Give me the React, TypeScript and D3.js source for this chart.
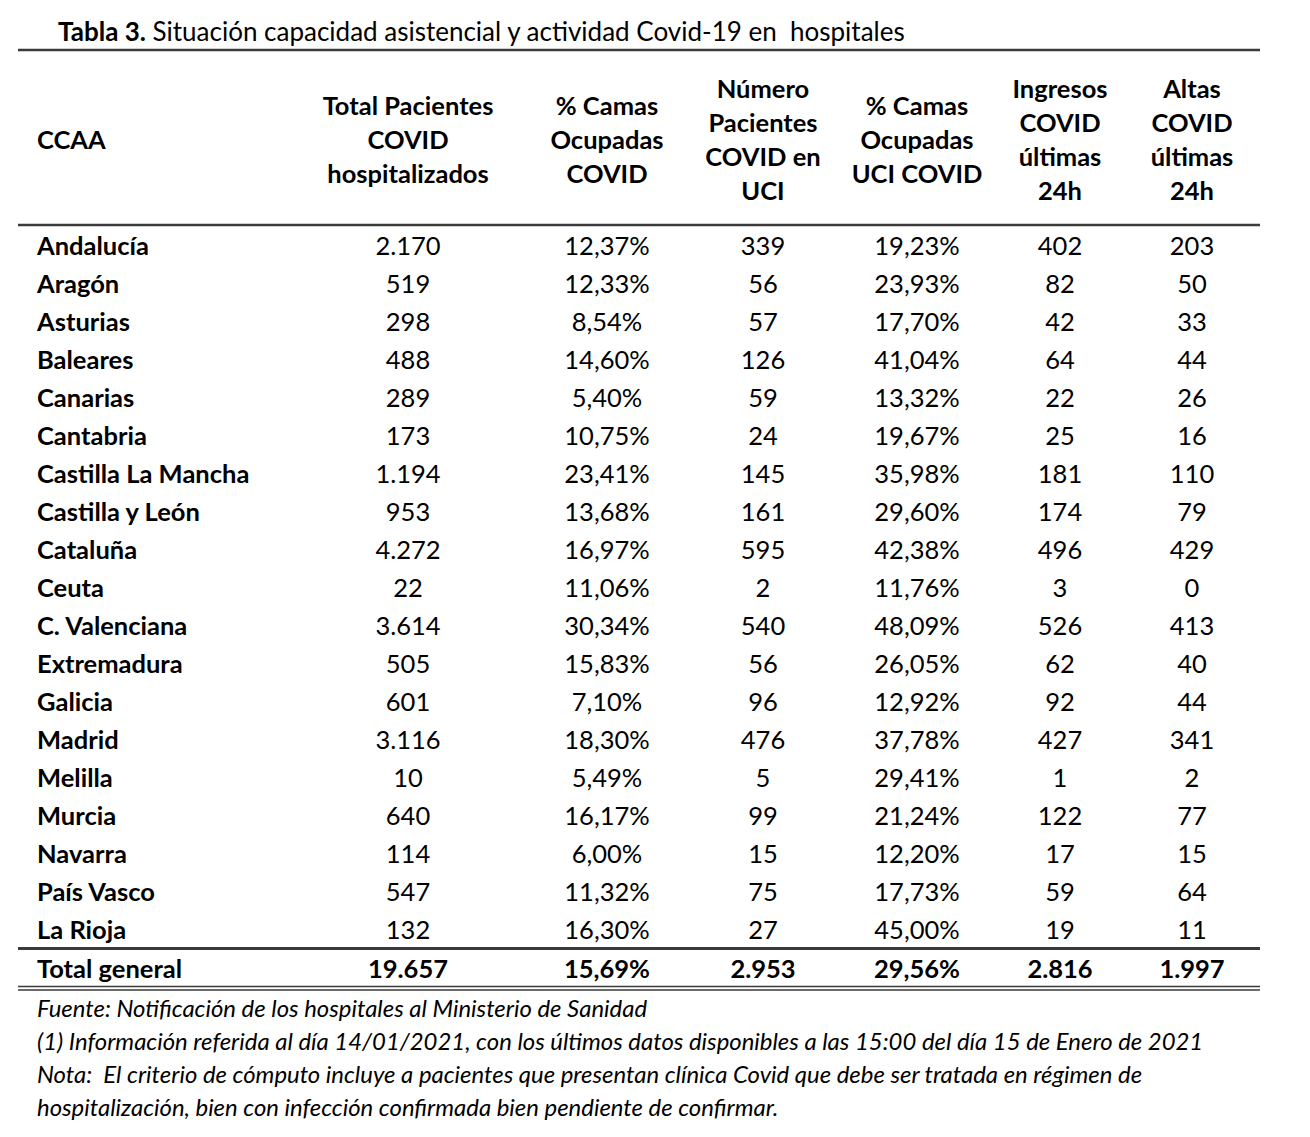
import React from "react";
import * as d3 from "d3";

const regions = ["Andalucía","Aragón","Asturias","Baleares","Canarias","Cantabria","Castilla La Mancha","Castilla y León","Cataluña","Ceuta","C. Valenciana","Extremadura","Galicia","Madrid","Melilla","Murcia","Navarra","País Vasco","La Rioja"];
const totalPacientes = ["2.170","519","298","488","289","173","1.194","953","4.272","22","3.614","505","601","3.116","10","640","114","547","132"];
const pctCamas = ["12,37%","12,33%","8,54%","14,60%","5,40%","10,75%","23,41%","13,68%","16,97%","11,06%","30,34%","15,83%","7,10%","18,30%","5,49%","16,17%","6,00%","11,32%","16,30%"];
const pacientesUci = ["339","56","57","126","59","24","145","161","595","2","540","56","96","476","5","99","15","75","27"];
const pctUci = ["19,23%","23,93%","17,70%","41,04%","13,32%","19,67%","35,98%","29,60%","42,38%","11,76%","48,09%","26,05%","12,92%","37,78%","29,41%","21,24%","12,20%","17,73%","45,00%"];
const ingresos = ["402","82","42","64","22","25","181","174","496","3","526","62","92","427","1","122","17","59","19"];
const altas = ["203","50","33","44","26","16","110","79","429","0","413","40","44","341","2","77","15","64","11"];
const totalRow = ["19.657","15,69%","2.953","29,56%","2.816","1.997"];

const columnKeys = ["tp","pc","nu","pu","in","al"];
const headers = [
  ["Total Pacientes","COVID","hospitalizados"],
  ["% Camas","Ocupadas","COVID"],
  ["Número","Pacientes","COVID en","UCI"],
  ["% Camas","Ocupadas","UCI COVID"],
  ["Ingresos","COVID","últimas","24h"],
  ["Altas","COVID","últimas","24h"],
];
const columns = [totalPacientes, pctCamas, pacientesUci, pctUci, ingresos, altas];

const titleBold = "Tabla 3.";
const titleRest = " Situación capacidad asistencial y actividad Covid-19 en  hospitales";
const footnotes = [
  "Fuente: Notificación de los hospitales al Ministerio de Sanidad",
  "(1) Información referida al día 14/01/2021, con los últimos datos disponibles a las 15:00 del día 15 de Enero de 2021",
  "Nota:  El criterio de cómputo incluye a pacientes que presentan clínica Covid que debe ser tratada en régimen de",
  "hospitalización, bien con infección confirmada bien pendiente de confirmar.",
];

export default function App() {
  const W = 1310, H = 1137;
  const font = "Lato, Carlito, Calibri, 'Open Sans', sans-serif";
  const xCol = d3.scaleOrdinal<string, number>().domain(columnKeys).range([408, 607, 763, 917, 1060, 1192]);
  const yRow = d3.scalePoint<string>().domain(regions).range([245, 929]);
  const headerMid = 139;
  const headerStep = 34;
  const lineL = 18, lineR = 1260;
  const lineColor = "#3a3a3a";
  const fs = 25.5;
  const footY = d3.scalePoint<number>().domain(d3.range(footnotes.length)).range([1007, 1106]);

  return (
    <svg width={W} height={H} style={{ display: "block", position: "absolute", left: 0, top: 0 }} fontFamily={font}>
      <rect width={W} height={H} fill="#fff" />
      <text x={58} y={31} dominantBaseline="central" fontSize={26} fill="#000">
        <tspan fontWeight="bold">{titleBold}</tspan>
        <tspan style={{ whiteSpace: "pre" }}>{titleRest}</tspan>
      </text>
      <line x1={lineL} x2={lineR} y1={50} y2={50} stroke={lineColor} strokeWidth={2.5} />

      <text x={37} y={headerMid} dominantBaseline="central" fontSize={fs} fontWeight="bold" fill="#000">CCAA</text>
      {headers.map((h, i) => (
        <g key={i}>
          {h.map((t, j) => (
            <text key={j} x={xCol(columnKeys[i])} y={headerMid + (j - (h.length - 1) / 2) * headerStep}
              dominantBaseline="central" textAnchor="middle" fontSize={fs} fontWeight="bold" fill="#000">{t}</text>
          ))}
        </g>
      ))}
      <line x1={lineL} x2={lineR} y1={225} y2={225} stroke={lineColor} strokeWidth={2.5} />

      {regions.map((r, ri) => (
        <g key={r}>
          <text x={37} y={yRow(r)} dominantBaseline="central" fontSize={fs} fontWeight="bold" fill="#000">{r}</text>
          {columns.map((col, ci) => (
            <text key={ci} x={xCol(columnKeys[ci])} y={yRow(r)} dominantBaseline="central" textAnchor="middle" fontSize={fs} fill="#000">{col[ri]}</text>
          ))}
        </g>
      ))}
      <line x1={lineL} x2={lineR} y1={948.5} y2={948.5} stroke={lineColor} strokeWidth={3} />
      <text x={37} y={968} dominantBaseline="central" fontSize={fs} fontWeight="bold" fill="#000">Total general</text>
      {totalRow.map((v, ci) => (
        <text key={ci} x={xCol(columnKeys[ci])} y={968} dominantBaseline="central" textAnchor="middle" fontSize={fs} fontWeight="bold" fill="#000">{v}</text>
      ))}
      <line x1={lineL} x2={lineR} y1={986.5} y2={986.5} stroke={lineColor} strokeWidth={1.5} />
      <line x1={lineL} x2={lineR} y1={990} y2={990} stroke={lineColor} strokeWidth={1.5} />

      {footnotes.map((t, i) => (
        <text key={i} x={37} y={footY(i)} dominantBaseline="central" fontSize={23.9} fontStyle="italic" fill="#000" style={{ whiteSpace: "pre" }}>{t}</text>
      ))}
    </svg>
  );
}
